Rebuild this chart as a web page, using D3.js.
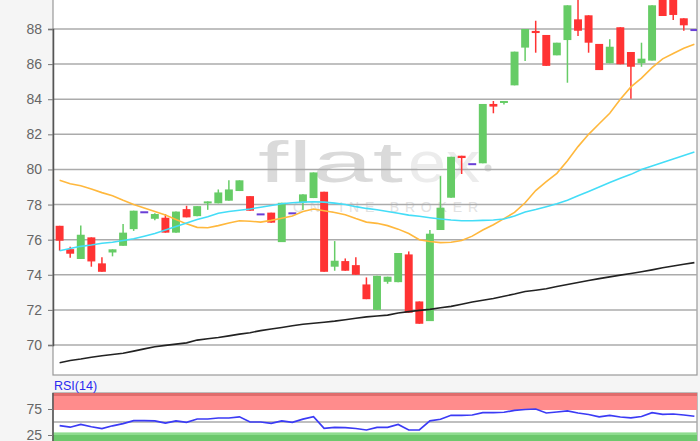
<!DOCTYPE html>
<html>
<head>
<meta charset="utf-8">
<script src="https://cdn.jsdelivr.net/npm/d3@7"></script>
<style>
  body { margin: 0; background: #f5f5f5; }
  svg { display: block; font-family: "Liberation Sans", Arial, sans-serif; }
</style>
</head>
<body>
<svg id="chart" width="700" height="441"></svg>
<script>
// candles, oldest first
var open  = [76.79,75.46,74.9,76.13,74.65,75.27,75.65,76.6,77.56,77.19,
             77.25,76.4,77.74,77.34,78.07,78.07,78.22,78.77,78.48,77.44,
             77.54,75.86,77.5,78.12,78.37,78.73,74.46,74.78,74.55,73.45,
             72.0,73.6,73.58,75.16,72.48,71.36,76.55,78.39,80.78,80.3,
             80.35,83.73,83.85,84.79,86.94,87.89,87.66,86.5,87.37,88.55,
             88.78,87.15,86.05,88.1,86.69,86.05,86.2,90.0,89.9,88.61,87.94];
var high  = [76.79,75.6,76.8,76.13,75.0,75.45,76.89,77.65,77.56,77.5,
             77.46,77.6,77.93,77.91,78.18,78.86,79.38,79.38,78.48,77.44,
             77.54,78.1,77.5,78.58,79.83,78.73,75.92,74.93,75.0,73.85,
             73.94,73.89,75.24,75.33,72.48,76.55,79.62,80.72,80.78,80.3,
             83.73,83.9,83.9,86.71,88.0,88.47,87.66,87.22,89.35,90.0,
             88.78,87.15,87.41,88.1,86.69,87.22,89.35,90.0,90.0,88.61,87.94];
var low   = [75.37,74.97,74.9,74.46,74.17,75.05,75.65,76.5,77.56,77.1,
             76.4,76.4,77.27,77.34,77.7,78.07,78.22,78.77,77.65,77.44,
             76.97,75.86,77.5,77.69,78.37,74.17,74.23,74.23,74.0,72.61,
             72.0,73.49,73.58,71.84,71.21,71.36,76.55,78.39,79.74,80.3,
             80.35,83.2,83.7,84.79,86.18,86.65,85.9,86.5,84.94,87.6,
             86.65,85.66,86.05,85.99,84.03,85.85,86.2,88.74,88.51,87.9,87.94];
var close = [75.94,75.2,76.28,74.76,74.17,75.45,76.4,77.65,77.56,77.46,
             76.4,77.6,77.27,77.91,78.18,78.69,78.86,79.38,77.65,77.44,
             76.97,78.1,77.5,78.58,79.83,74.17,74.8,74.23,74.0,72.61,
             73.94,73.89,75.24,71.84,71.21,76.34,77.82,80.72,80.65,80.3,
             83.73,83.58,83.9,86.71,88.0,87.77,85.9,87.22,89.35,87.9,
             87.22,85.66,86.99,85.99,85.85,86.31,89.35,88.74,88.8,88.21,87.94];

// moving averages
var ma20  = [79.38,79.18,79.07,78.88,78.68,78.5,78.24,78.0,77.8,77.6,
             77.4,77.15,76.9,76.7,76.68,76.8,76.95,77.08,77.05,77.0,
             77.1,77.22,77.35,77.6,77.75,77.65,77.55,77.42,77.2,77.0,
             76.93,76.8,76.6,76.35,76.0,75.9,75.83,75.85,75.95,76.2,
             76.55,76.85,77.2,77.55,78.1,78.8,79.3,79.78,80.5,81.3,
             82.0,82.6,83.2,84.0,84.7,85.2,85.8,86.3,86.6,86.9,87.13];
var ma50  = [75.37,75.5,75.62,75.7,75.8,75.85,75.95,76.05,76.2,76.35,
             76.55,76.75,76.95,77.15,77.3,77.5,77.6,77.68,77.75,77.85,
             77.95,78.05,78.1,78.14,78.16,78.14,78.08,78.0,77.88,77.78,
             77.7,77.6,77.5,77.4,77.33,77.25,77.18,77.12,77.08,77.08,
             77.1,77.12,77.18,77.35,77.58,77.72,77.88,78.05,78.25,78.5,
             78.75,79.0,79.25,79.5,79.72,80.0,80.2,80.4,80.6,80.8,81.0];
var ma200 = [68.99,69.12,69.2,69.3,69.39,69.46,69.53,69.65,69.78,69.9,
             69.98,70.05,70.12,70.28,70.36,70.43,70.52,70.62,70.7,70.82,
             70.91,71.0,71.1,71.18,71.24,71.3,71.36,71.44,71.52,71.6,
             71.65,71.7,71.82,71.9,71.97,72.03,72.12,72.2,72.32,72.45,
             72.55,72.65,72.78,72.9,73.05,73.12,73.2,73.33,73.45,73.56,
             73.67,73.78,73.88,73.98,74.07,74.17,74.28,74.4,74.5,74.6,74.69];

// RSI(14)
var rsi   = [42.9,40,45.4,40.8,37.3,42.7,47,52.5,52.5,52.3,
             48,52.3,49.4,55.8,55.8,57.7,57.7,60,50,50,
             47.5,52.3,49.4,55.4,60.2,37.9,39.8,39.2,37.5,34.6,
             39.8,39.8,45.2,34.6,34.6,52.3,55.2,62.9,62.9,63.5,
             67.9,67.9,68.7,72.5,74,75,67.3,69.2,71.5,67.3,
             64.4,60,62.9,59.6,58,60.6,67.9,64.8,65.4,63.5,61];

var priceTicks = [70,72,74,76,78,80,82,84,86,88];
var rsiTicks = [25,75];

var svg = d3.select("#chart");
var left = 53, right = 697;

var x = d3.scaleBand().domain(d3.range(open.length)).range([left, 701]).padding(0.25);
var cx = function(i){ return x(i) + x.bandwidth()/2; };
var y = d3.scaleLinear().domain([70,88]).range([345,29]);
var yr = d3.scaleLinear().domain([50,75]).range([422,409]);

svg.append("rect").attr("width",700).attr("height",441).attr("fill","#f5f5f5");

var defs = svg.append("defs");
defs.append("clipPath").attr("id","clipPrice")
	.append("rect").attr("x",left).attr("y",-10).attr("width",right-left).attr("height",385);
defs.append("clipPath").attr("id","clipRsi")
	.append("rect").attr("x",left).attr("y",393).attr("width",right-left).attr("height",60);

// ---- price panel
svg.append("rect").attr("x",left).attr("y",-10).attr("width",right-left).attr("height",385)
	.attr("fill","#fff").attr("stroke","#999").attr("stroke-width",1.2);

var price = svg.append("g").attr("clip-path","url(#clipPrice)");

// watermark
var wm = price.append("g");
wm.append("text").attr("x",258).attr("y",182).attr("font-size",58).attr("textLength",145)
	.attr("lengthAdjust","spacingAndGlyphs").attr("fill","#dadada").text("flat");
wm.append("text").attr("x",408).attr("y",182).attr("font-size",58).attr("textLength",72)
	.attr("lengthAdjust","spacingAndGlyphs").attr("fill","#ececec").text("ex");
wm.append("circle").attr("cx",488).attr("cy",168).attr("r",3.5).attr("fill","#dcdcdc");
wm.append("text").attr("x",293).attr("y",212).attr("font-size",14).attr("textLength",185)
	.attr("fill","#e2e2e2").text("ONLINE BROKER");

price.selectAll(".grid").data(priceTicks).enter().append("line")
	.attr("x1",left).attr("x2",right).attr("y1",y).attr("y2",y)
	.attr("stroke","#ababab").attr("stroke-width",1.5);

var candles = price.selectAll(".candle").data(open.map(function(o,i){
		return {i:i, o:o, h:high[i], l:low[i], c:close[i]};
	})).enter().append("g");

function col(d){
	if (d.o === d.c) return "#6a3fd6";
	return d.c > d.o ? "#66cc66" : "#ff3333";
}

candles.filter(function(d){ return d.o !== d.c; }).append("line")
	.attr("x1",function(d){ return cx(d.i); }).attr("x2",function(d){ return cx(d.i); })
	.attr("y1",function(d){ return y(d.h); }).attr("y2",function(d){ return y(d.l); })
	.attr("stroke",col).attr("stroke-width",1.5);

candles.append("rect")
	.attr("x",function(d){ return x(d.i); })
	.attr("width",x.bandwidth())
	.attr("y",function(d){ return d.o === d.c ? y(d.o)-1 : y(Math.max(d.o,d.c)); })
	.attr("height",function(d){
		if (d.o === d.c) return 2;
		return Math.max(2, y(Math.min(d.o,d.c)) - y(Math.max(d.o,d.c)));
	})
	.attr("fill",col);

var line = d3.line().x(function(d,i){ return cx(i); }).y(function(d){ return y(d); });
price.append("path").datum(ma20).attr("d",line).attr("fill","none").attr("stroke","#ffb83d").attr("stroke-width",1.6);
price.append("path").datum(ma50).attr("d",line).attr("fill","none").attr("stroke","#44ddf7").attr("stroke-width",1.6);
price.append("path").datum(ma200).attr("d",line).attr("fill","none").attr("stroke","#222").attr("stroke-width",1.6);

var yAxis = svg.append("g").attr("transform","translate("+left+",0)")
	.call(d3.axisLeft(y).tickValues(priceTicks).tickSize(5).tickPadding(6));
yAxis.select(".domain").attr("stroke","#555").attr("stroke-width",1.5);
yAxis.selectAll(".tick line").attr("stroke","#777");
yAxis.selectAll(".tick text").attr("fill","#666").attr("font-size",14).attr("font-family","Liberation Sans, Arial, sans-serif");

// ---- RSI panel
svg.append("rect").attr("x",left).attr("y",393).attr("width",right-left).attr("height",60)
	.attr("fill","#fff").attr("stroke","#999").attr("stroke-width",1.2);
var rp = svg.append("g").attr("clip-path","url(#clipRsi)");
rp.append("rect").attr("x",left).attr("width",right-left).attr("y",yr(100)).attr("height",yr(75)-yr(100)+1).attr("fill","#ff8c8c");
rp.append("rect").attr("x",left).attr("width",right-left).attr("y",390).attr("height",yr(100)-390).attr("fill","#e06c6c");
rp.append("rect").attr("x",left).attr("width",right-left).attr("y",yr(30)).attr("height",yr(25)-yr(30)).attr("fill","#8fdc8f");
rp.append("rect").attr("x",left).attr("width",right-left).attr("y",yr(25)).attr("height",30).attr("fill","#6cc86c");
rp.append("line").attr("x1",left).attr("x2",right).attr("y1",yr(50)).attr("y2",yr(50))
	.attr("stroke","#aaa").attr("stroke-width",1.5);
var rline = d3.line().x(function(d,i){ return cx(i); }).y(function(d){ return yr(d); });
rp.append("path").datum(rsi).attr("d",rline).attr("fill","none").attr("stroke","#3b3bf5").attr("stroke-width",1.7);

var rAxis = svg.append("g").attr("transform","translate("+left+",0)")
	.call(d3.axisLeft(yr).tickValues(rsiTicks).tickSize(5).tickPadding(6));
rAxis.select(".domain").attr("d","M0,393V441").attr("stroke","#555").attr("stroke-width",1.5);
rAxis.selectAll(".tick line").attr("stroke","#777");
rAxis.selectAll(".tick text").attr("fill","#666").attr("font-size",14).attr("font-family","Liberation Sans, Arial, sans-serif");

svg.append("text").attr("x",54).attr("y",390).attr("font-size",12.5).attr("fill","#2a2af0").text("RSI(14)");
</script>
</body>
</html>
